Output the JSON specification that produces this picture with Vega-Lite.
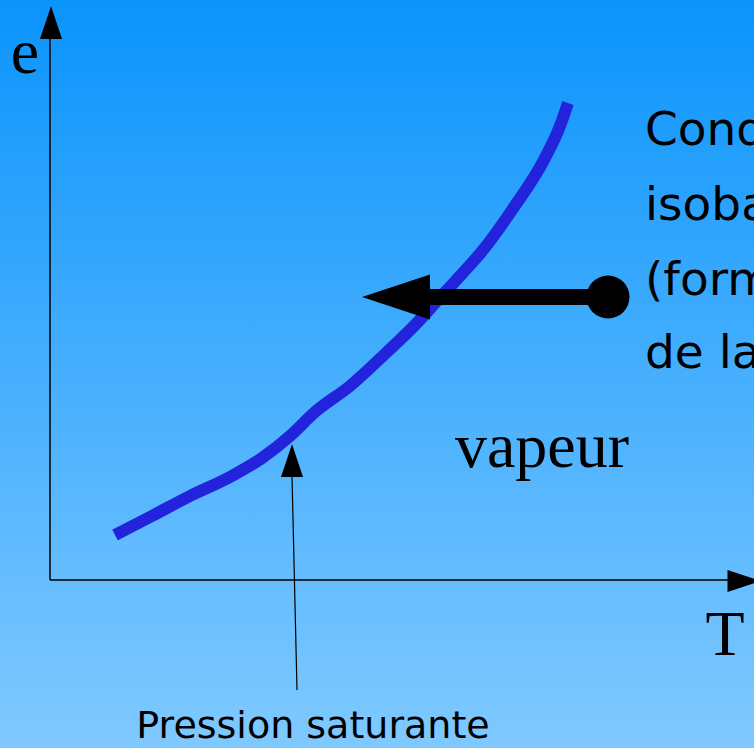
{
  "$schema": "https://vega.github.io/schema/vega-lite/v6.json",
  "width": 754,
  "height": 748,
  "padding": 0,
  "autosize": {"type": "none"},
  "config": {"view": {"stroke": null}},
  "datasets": {
    "bg": [{"T": 0, "e": 0, "T2": 754, "e2": 748}],
    "axes": [
      {"T": 50, "e": 580, "T2": 50, "e2": 36},
      {"T": 50, "e": 580, "T2": 732, "e2": 580}
    ],
    "upHeads": [{"T": 51, "e": 22.5}, {"T": 292, "e": 460.5}],
    "rightHeads": [{"T": 744, "e": 581}],
    "curve": [
      {"T": 115, "e": 535}, {"T": 150, "e": 517}, {"T": 190, "e": 496},
      {"T": 230, "e": 477}, {"T": 262, "e": 458}, {"T": 290, "e": 436},
      {"T": 315, "e": 412}, {"T": 350, "e": 386}, {"T": 387, "e": 352},
      {"T": 415, "e": 325}, {"T": 438, "e": 300}, {"T": 460, "e": 276},
      {"T": 483, "e": 250}, {"T": 512, "e": 210}, {"T": 545, "e": 158},
      {"T": 560, "e": 126}, {"T": 568, "e": 103}
    ],
    "shaft": [{"T": 606, "e": 297, "T2": 426, "e2": 297}],
    "leftHead": [{"T": 396, "e": 297}],
    "dot": [{"T": 608, "e": 297}],
    "thin": [{"T": 297, "e": 690, "T2": 292, "e2": 476}],
    "serifText": [
      {"T": 25, "e": 73, "label": "e"},
      {"T": 725, "e": 655, "label": "T"},
      {"T": 542, "e": 467, "label": "vapeur"}
    ],
    "sideText": [
      {"T": 645, "e": 145, "label": "Condensation"},
      {"T": 645, "e": 220, "label": "isobare"},
      {"T": 645, "e": 295, "label": "(formation"},
      {"T": 645, "e": 368, "label": "de la rosée)"}
    ],
    "caption": [{"T": 313, "e": 738, "label": "Pression saturante"}]
  },
  "layer": [
    {
      "data": {"name": "bg"},
      "mark": {
        "type": "rect",
        "color": {
          "gradient": "linear", "x1": 0, "y1": 0, "x2": 0, "y2": 1,
          "stops": [{"offset": 0, "color": "#0b94fc"}, {"offset": 1, "color": "#80c9ff"}]
        }
      },
      "encoding": {
        "x": {"field": "T", "type": "quantitative", "scale": {"domain": [0, 754], "nice": false, "zero": false}, "axis": null},
        "x2": {"field": "T2"},
        "y": {"field": "e", "type": "quantitative", "scale": {"domain": [0, 748], "nice": false, "zero": false, "reverse": true}, "axis": null},
        "y2": {"field": "e2"}
      }
    },
    {
      "data": {"name": "axes"},
      "mark": {"type": "rule", "color": "black", "strokeWidth": 1.5},
      "encoding": {
        "x": {"field": "T", "type": "quantitative"},
        "x2": {"field": "T2"},
        "y": {"field": "e", "type": "quantitative"},
        "y2": {"field": "e2"}
      }
    },
    {
      "data": {"name": "upHeads"},
      "mark": {"type": "point", "shape": "M0,-1L0.667,1L-0.667,1Z", "filled": true, "color": "black", "opacity": 1, "size": 1089},
      "encoding": {
        "x": {"field": "T", "type": "quantitative"},
        "y": {"field": "e", "type": "quantitative"}
      }
    },
    {
      "data": {"name": "rightHeads"},
      "mark": {"type": "point", "shape": "M1,0L-1,-0.667L-1,0.667Z", "filled": true, "color": "black", "opacity": 1, "size": 1089},
      "encoding": {
        "x": {"field": "T", "type": "quantitative"},
        "y": {"field": "e", "type": "quantitative"}
      }
    },
    {
      "data": {"name": "curve"},
      "mark": {"type": "line", "color": "#2323dc", "strokeWidth": 12, "interpolate": "monotone"},
      "encoding": {
        "x": {"field": "T", "type": "quantitative"},
        "y": {"field": "e", "type": "quantitative"}
      }
    },
    {
      "data": {"name": "shaft"},
      "mark": {"type": "rule", "color": "black", "strokeWidth": 16},
      "encoding": {
        "x": {"field": "T", "type": "quantitative"},
        "x2": {"field": "T2"},
        "y": {"field": "e", "type": "quantitative"},
        "y2": {"field": "e2"}
      }
    },
    {
      "data": {"name": "leftHead"},
      "mark": {"type": "point", "shape": "M-1,0L1,-0.662L1,0.662Z", "filled": true, "color": "black", "opacity": 1, "size": 4624},
      "encoding": {
        "x": {"field": "T", "type": "quantitative"},
        "y": {"field": "e", "type": "quantitative"}
      }
    },
    {
      "data": {"name": "dot"},
      "mark": {"type": "point", "shape": "circle", "filled": true, "color": "black", "opacity": 1, "size": 1849},
      "encoding": {
        "x": {"field": "T", "type": "quantitative"},
        "y": {"field": "e", "type": "quantitative"}
      }
    },
    {
      "data": {"name": "thin"},
      "mark": {"type": "rule", "color": "black", "strokeWidth": 1.2},
      "encoding": {
        "x": {"field": "T", "type": "quantitative"},
        "x2": {"field": "T2"},
        "y": {"field": "e", "type": "quantitative"},
        "y2": {"field": "e2"}
      }
    },
    {
      "data": {"name": "serifText"},
      "mark": {"type": "text", "font": "Liberation Serif", "fontSize": 64, "color": "black", "align": "center", "baseline": "alphabetic"},
      "encoding": {
        "x": {"field": "T", "type": "quantitative"},
        "y": {"field": "e", "type": "quantitative"},
        "text": {"field": "label"}
      }
    },
    {
      "data": {"name": "sideText"},
      "mark": {"type": "text", "font": "DejaVu Sans", "fontSize": 47, "color": "black", "align": "left", "baseline": "alphabetic"},
      "encoding": {
        "x": {"field": "T", "type": "quantitative"},
        "y": {"field": "e", "type": "quantitative"},
        "text": {"field": "label"}
      }
    },
    {
      "data": {"name": "caption"},
      "mark": {"type": "text", "font": "DejaVu Sans", "fontSize": 38, "color": "black", "align": "center", "baseline": "alphabetic"},
      "encoding": {
        "x": {"field": "T", "type": "quantitative"},
        "y": {"field": "e", "type": "quantitative"},
        "text": {"field": "label"}
      }
    }
  ]
}
